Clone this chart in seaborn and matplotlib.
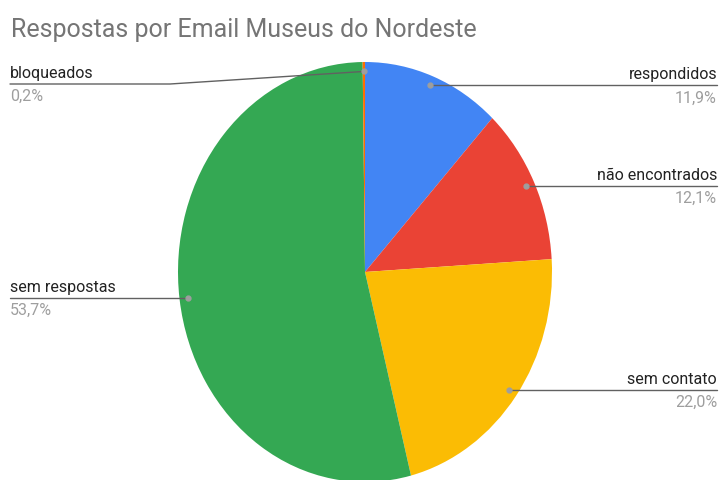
import numpy as np
import matplotlib
matplotlib.use("Agg")
import matplotlib.pyplot as plt
import seaborn as sns
from matplotlib.lines import Line2D

sns.set_theme(style="white")
plt.rcParams['font.family'] = ['Roboto', 'DejaVu Sans']

# ---- data ----
categories = ["respondidos", "não encontrados", "sem contato", "sem respostas", "bloqueados"]
values = [11.9, 12.1, 22.0, 53.7, 0.2]
pct_labels = ["11,9%", "12,1%", "22,0%", "53,7%", "0,2%"]
colors = ["#4285F4", "#EA4335", "#FBBC04", "#34A853", "#FF6D01"]
title = "Respostas por Email Museus do Nordeste"

W, H = 719, 480
fig = plt.figure(figsize=(W / 100, H / 100), dpi=100)
fig.patch.set_facecolor("white")

# pie axes (slightly elliptical like the reference)
cx, cy, rx, ry = 365, 272, 187, 210
ax = fig.add_axes([(cx - rx) / W, (H - cy - ry) / H, 2 * rx / W, 2 * ry / H])
wedges, _ = ax.pie(values, colors=colors, startangle=90, counterclock=False,
                   radius=1.0, wedgeprops=dict(linewidth=0))
ax.set_aspect("auto")
ax.set_xlim(-1, 1)
ax.set_ylim(-1, 1)
ax.set_axis_off()

fig.text(11 / W, 1 - 30 / H, title, fontsize=18, color="#757575", ha="left", va="center")

# dot positions from wedge mid-angles
total = sum(values)
cum = 0.0
dots = []
for v in values:
    mid = (cum + v / 2) / total * 2 * np.pi
    cum += v
    x, y = 0.955 * np.sin(mid), 0.955 * np.cos(mid)
    disp = ax.transData.transform((x, y))
    dots.append((disp[0], H - disp[1]))

line_kw = dict(color="#616161", linewidth=1.0)
side = ["R", "R", "R", "L", "L"]
for i, (name, pct) in enumerate(zip(categories, pct_labels)):
    dx, dy = dots[i]
    if side[i] == "R":
        ly = dy
        xs, ys = [dx, 717], [ly, ly]
        tx, ha = 717, "right"
    else:
        if name == "bloqueados":
            ly = 84
            xs, ys = [10, 170, dx], [ly, ly, dy]
        else:
            ly = dy
            xs, ys = [10, dx], [ly, ly]
        tx, ha = 10, "left"
    fx = [x / W for x in xs]
    fy = [1 - y / H for y in ys]
    fig.add_artist(Line2D(fx, fy, transform=fig.transFigure, **line_kw))
    fig.add_artist(Line2D([dx / W], [1 - dy / H], transform=fig.transFigure,
                          marker="o", markersize=3.5, color="#9E9E9E", linestyle="none"))
    fig.text(tx / W, 1 - (ly - 6) / H, name, fontsize=11.5, color="#222222",
             ha=ha, va="baseline")
    fig.text(tx / W, 1 - (ly + 5) / H, pct, fontsize=11.5, color="#9E9E9E",
             ha=ha, va="top")

fig.savefig("out.png", dpi=100, facecolor="white")
